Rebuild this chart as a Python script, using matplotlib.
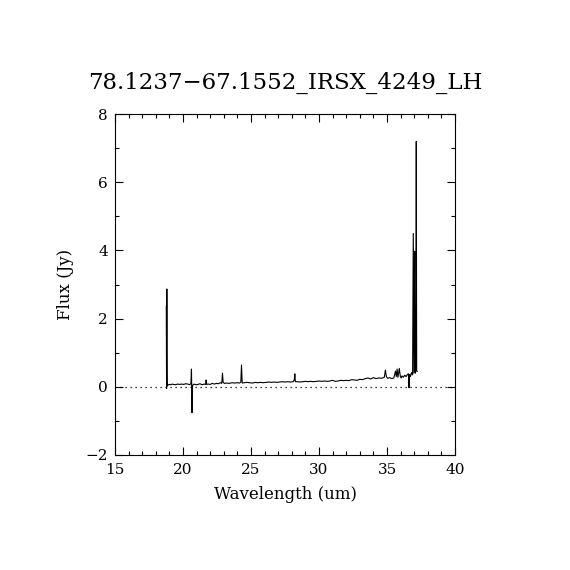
import matplotlib
matplotlib.use("Agg")
import matplotlib.pyplot as plt
from matplotlib.ticker import MultipleLocator

title = "78.1237\u221267.1552_IRSX_4249_LH"

wave = [18.77, 18.79, 18.81, 18.83, 18.86, 18.90, 19.00, 19.10, 19.20, 19.30,
        19.45, 19.60, 19.75, 19.90, 20.05, 20.20, 20.35, 20.50, 20.58, 20.62,
        20.66, 20.70, 20.80, 20.95, 21.10, 21.25, 21.40, 21.55, 21.66, 21.70,
        21.74, 21.85, 22.00, 22.15, 22.30, 22.45, 22.60, 22.75, 22.85, 22.90,
        22.95, 23.05, 23.20, 23.40, 23.60, 23.80, 24.00, 24.15, 24.25, 24.30,
        24.35, 24.50, 24.70, 24.90, 25.10, 25.30, 25.50, 25.70, 25.90, 26.10,
        26.30, 26.50, 26.70, 26.90, 27.10, 27.30, 27.50, 27.70, 27.90, 28.10,
        28.18, 28.22, 28.26, 28.40, 28.60, 28.80, 29.00, 29.20, 29.40, 29.60,
        29.80, 30.00, 30.20, 30.40, 30.60, 30.80, 31.00, 31.20, 31.40, 31.60,
        31.80, 32.00, 32.20, 32.40, 32.60, 32.80, 33.00, 33.20, 33.40, 33.60,
        33.80, 34.00, 34.20, 34.40, 34.60, 34.80, 34.88, 34.95, 35.05, 35.20,
        35.35, 35.50, 35.62, 35.68, 35.74, 35.80, 35.90, 35.98, 36.04, 36.10,
        36.20, 36.30, 36.40, 36.50, 36.58, 36.62, 36.66, 36.72, 36.80, 36.88,
        36.93, 36.98, 37.03, 37.06, 37.09, 37.12, 37.15, 37.18, 37.22]

flux = [2.35, -0.05, 2.87, 0.02, 0.08, 0.05, 0.07, 0.06, 0.08, 0.07,
        0.06, 0.08, 0.07, 0.08, 0.07, 0.09, 0.08, 0.06, 0.10, 0.52,
        -0.76, 0.04, 0.08, 0.06, 0.07, 0.09, 0.06, 0.08, 0.07, 0.20,
        0.07, 0.08, 0.07, 0.10, 0.08, 0.10, 0.09, 0.12, 0.10, 0.40,
        0.13, 0.10, 0.11, 0.10, 0.12, 0.11, 0.12, 0.11, 0.14, 0.64,
        0.11, 0.12, 0.13, 0.12, 0.11, 0.13, 0.12, 0.13, 0.12, 0.13,
        0.14, 0.13, 0.14, 0.13, 0.14, 0.15, 0.14, 0.15, 0.14, 0.15,
        0.20, 0.38, 0.15, 0.15, 0.14, 0.15, 0.16, 0.15, 0.16, 0.15,
        0.16, 0.17, 0.16, 0.17, 0.16, 0.17, 0.19, 0.16, 0.17, 0.19,
        0.18, 0.19, 0.18, 0.21, 0.20, 0.19, 0.22, 0.21, 0.24, 0.26,
        0.23, 0.27, 0.24, 0.26, 0.25, 0.28, 0.49, 0.30, 0.25, 0.27,
        0.24, 0.26, 0.46, 0.30, 0.52, 0.28, 0.54, 0.30, 0.26, 0.32,
        0.28, 0.34, 0.30, 0.36, 0.38, -0.03, 0.36, 0.30, 0.42, 0.35,
        4.50, 0.40, 3.98, 0.45, 0.40, 0.50, 7.20, 0.48, 0.45]

xlim = (15, 40)
ylim = (-2, 8)
xlabel = "Wavelength (um)"
ylabel = "Flux (Jy)"

plt.rcParams['font.family'] = ['DejaVu Serif']

fig = plt.figure(figsize=(5.7, 5.7), dpi=100)
ax = fig.add_axes([0.2018, 0.2018, 0.5965, 0.598])

ax.plot(wave, flux, color='black', linewidth=0.8)
ax.axhline(0, color='black', linestyle=(0, (1, 3)), linewidth=0.9)

ax.set_xlim(*xlim)
ax.set_ylim(*ylim)
ax.xaxis.set_major_locator(MultipleLocator(5))
ax.xaxis.set_minor_locator(MultipleLocator(1))
ax.yaxis.set_major_locator(MultipleLocator(2))
ax.yaxis.set_minor_locator(MultipleLocator(1))
ax.tick_params(which='both', direction='in', top=True, right=True,
               labelsize=11, width=0.8)
ax.tick_params(which='major', length=6)
ax.tick_params(axis='x', which='major', pad=6)
ax.tick_params(axis='y', which='major', pad=5)
ax.tick_params(which='minor', length=3)
for s in ax.spines.values():
    s.set_linewidth(0.8)

ax.set_xlabel(xlabel, fontsize=12, labelpad=6)
ax.set_ylabel(ylabel, fontsize=12, labelpad=8)
fig.text(0.5, 0.855, title, ha='center', va='center', fontsize=16.5)

fig.savefig("out.png", dpi=100)
